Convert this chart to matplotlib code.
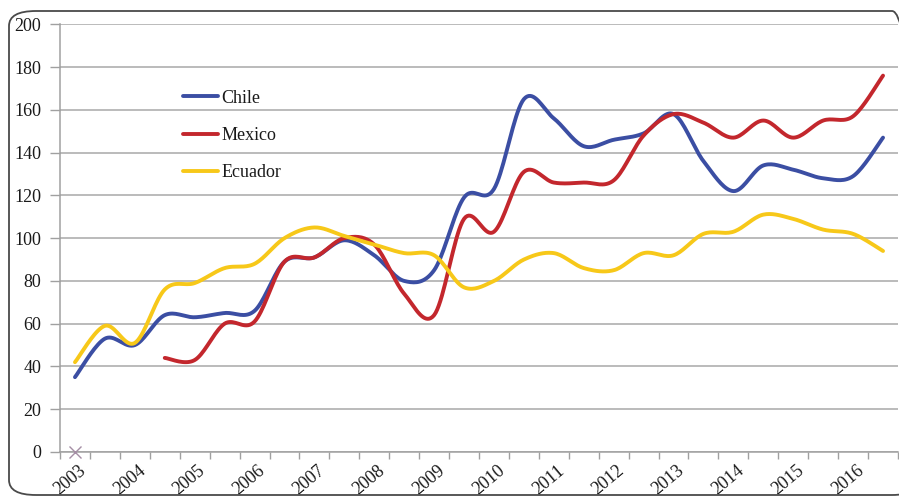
import numpy as np
import matplotlib
matplotlib.use("Agg")
import matplotlib.pyplot as plt
from matplotlib.patches import FancyBboxPatch

years = [str(y) for y in range(2003, 2017)]
n_periods = 28  # half-year periods 2003-2016

chile = [35, 53, 50, 64, 63, 65, 66, 89, 91, 99, 92, 80, 85, 119, 123, 165,
         156, 143, 146, 149, 158, 136, 122, 134, 132, 128, 129, 147]
mexico = [None, None, None, 44, 43, 60, 61, 89, 91, 100, 97, 74, 64, 109, 103,
          131, 126, 126, 127, 148, 158, 154, 147, 155, 147, 155, 157, 176]
ecuador = [42, 59, 51, 76, 79, 86, 88, 100, 105, 101, 97, 93, 92, 77, 80, 90,
           93, 86, 85, 93, 92, 102, 103, 111, 109, 104, 102, 94]
series_names = ["Chile", "Mexico", "Ecuador"]
series_colors = ["#3b4ea3", "#c3272d", "#f7c819"]

def smooth(xs, ys, steps=20):
    # Excel-style smoothed line (Bezier through points, Catmull-Rom tangents)
    xs = np.asarray(xs, float); ys = np.asarray(ys, float)
    P = np.column_stack([xs, ys])
    n = len(P)
    out = [P[0]]
    t = np.linspace(0, 1, steps)[1:, None]
    for i in range(n - 1):
        p0 = P[i - 1] if i > 0 else P[i]
        p1 = P[i]; p2 = P[i + 1]
        p3 = P[i + 2] if i + 2 < n else P[i + 1]
        b1 = p1 + (p2 - p0) / 6.0
        b2 = p2 - (p3 - p1) / 6.0
        seg = ((1 - t) ** 3) * p1 + 3 * ((1 - t) ** 2) * t * b1 + 3 * (1 - t) * t ** 2 * b2 + t ** 3 * p2
        out.extend(seg)
    out = np.array(out)
    return out[:, 0], out[:, 1]

W, H = 899, 497
fig = plt.figure(figsize=(W / 100, H / 100), dpi=100)
fig.patch.set_facecolor("white")

# chart-area border with rounded corners
border = FancyBboxPatch((9 / W, 2.0 / H), (W + 20 - 9) / W, (H - 13) / H,
                        boxstyle="round,pad=0,rounding_size=0.03",
                        transform=fig.transFigure, fill=False,
                        edgecolor="#4a4a4a", linewidth=1.3, clip_on=False)
fig.patches.append(border)

ax = fig.add_axes([60 / W, 45 / H, (898 - 60) / W, (452 - 24.3) / H])
ax.set_facecolor("white")

font = "Liberation Serif"
fs = 13

handles = []
for name, vals, col in zip(series_names, [chile, mexico, ecuador], series_colors):
    idx = [i for i, v in enumerate(vals) if v is not None]
    xs = idx
    ys = [vals[i] for i in idx]
    sx, sy = smooth(xs, ys)
    h, = ax.plot(sx, sy, color=col, lw=2.8, solid_capstyle="round", label=name, zorder=3)
    handles.append(h)

# stray marker at origin
ax.plot([0], [0], marker="x", color="#a58ea5", markersize=8, mew=1.0, ls="none", zorder=3, clip_on=False)

ax.set_xlim(-0.5, n_periods - 0.5)
ax.set_ylim(0, 200)
ax.set_yticks(np.arange(0, 201, 20))
ax.grid(axis="y", color="#a8a8a8", lw=1.1)
ax.set_axisbelow(True)

ax.set_xticks(np.arange(-0.5, n_periods, 1.0))
ax.set_xticklabels([])
ax.tick_params(axis="x", length=5, width=1, color="#a0a0a0", direction="out")
ax.tick_params(axis="y", length=7.5, width=1, color="#a0a0a0", pad=6,
               labelsize=fs, labelcolor="#1a1a1a")
for lab in ax.get_yticklabels():
    lab.set_fontfamily(font)

for i, yr in enumerate(years):
    ax.text(2 * i + 0.1, -4.6, yr, rotation=40, ha="right", va="top",
            rotation_mode="anchor", fontsize=fs, family=font, color="#1a1a1a",
            transform=ax.transData, clip_on=False)

for s in ["top", "right"]:
    ax.spines[s].set_visible(False)
ax.spines["left"].set_color("#a0a0a0")
ax.spines["bottom"].set_color("#a0a0a0")
ax.spines["left"].set_linewidth(1.1)
ax.spines["bottom"].set_linewidth(1.1)

leg = ax.legend(handles=handles, loc="upper left",
                bbox_to_anchor=(174 / W, 1 - 80.5 / H), bbox_transform=fig.transFigure,
                frameon=False, borderpad=0, handlelength=1.94, handletextpad=0.2,
                labelspacing=1.13, prop={"family": font, "size": fs})
for t in leg.get_texts():
    t.set_color("#1a1a1a")

fig.savefig("out.png", dpi=100, facecolor="white")
